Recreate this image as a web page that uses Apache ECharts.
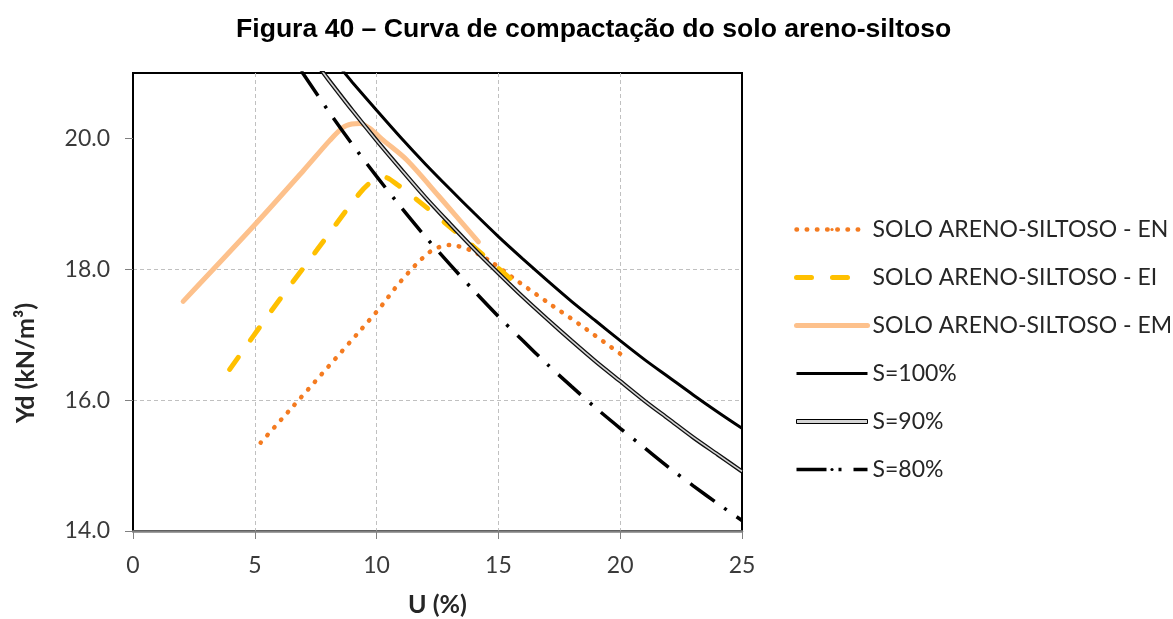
<!DOCTYPE html>
<html>
<head>
<meta charset="utf-8">
<script src="https://cdn.jsdelivr.net/npm/echarts@6/dist/echarts.min.js"></script>
<style>
  html, body { margin: 0; padding: 0; background: #fff; }
  #chart { width: 1173px; height: 619px; }
</style>
</head>
<body>
<div id="chart"></div>
<script>
// Compaction curves: moisture content U (%) and dry unit weight (kN/m³)
const umidadeEN = [5.24, 10.0, 11.0, 12.2, 13.0, 13.8, 14.6, 15.6, 17.0, 18.4, 20.07];
const pesoEN    = [15.35, 17.35, 17.82, 18.27, 18.37, 18.30, 18.14, 17.87, 17.50, 17.14, 16.69];

const umidadeEI = [3.97, 5.75, 7.54, 9.3, 9.8, 10.3, 10.9, 12.1, 13.0, 14.0, 15.48];
const pesoEI    = [16.47, 17.40, 18.29, 19.16, 19.34, 19.41, 19.28, 18.93, 18.65, 18.34, 17.86];

const umidadeEM = [2.06, 5.0, 7.0, 8.08, 8.63, 8.98, 9.32, 9.73, 10.28, 11.24, 12.55, 14.18];
const pesoEM    = [17.51, 18.68, 19.51, 19.97, 20.17, 20.22, 20.23, 20.15, 19.97, 19.67, 19.12, 18.42];

// Saturation curves
const umidadeS100 = [8.6, 9, 10, 11, 12, 13, 14, 15, 16, 17, 18, 19, 20, 21, 22, 23, 24, 25];
const pesoS100    = [21.04, 20.86, 20.43, 20.01, 19.61, 19.23, 18.86, 18.50, 18.16, 17.83, 17.51, 17.21, 16.91, 16.62, 16.35, 16.08, 15.82, 15.57];

const umidadeS90 = [7.7, 8, 9, 10, 11, 12, 13, 14, 15, 16, 17, 18, 19, 20, 21, 22, 23, 24, 25];
const pesoS90    = [21.06, 20.91, 20.43, 19.97, 19.53, 19.10, 18.70, 18.31, 17.94, 17.58, 17.24, 16.91, 16.59, 16.29, 15.99, 15.71, 15.43, 15.17, 14.91];

const umidadeS80 = [6.9, 7, 8, 9, 10, 11, 12, 13, 14, 15, 16, 17, 18, 19, 20, 21, 22, 23, 24, 25];
const pesoS80    = [21.03, 20.98, 20.43, 19.91, 19.42, 18.95, 18.50, 18.08, 17.67, 17.28, 16.91, 16.55, 16.21, 15.88, 15.57, 15.27, 14.97, 14.69, 14.42, 14.16];

const ticksY = [14, 16, 18, 20];

const pares = (xs, ys) => xs.map((x, i) => [x, ys[i]]);

const chart = echarts.init(document.getElementById('chart'), null, { renderer: 'canvas' });

const baseLine = { type: 'line', symbol: 'none', showSymbol: false, smooth: 0.3, clip: true, silent: true };

chart.setOption({
  animation: false,
  backgroundColor: '#ffffff',
  title: {
    text: 'Figura 40 – Curva de compactação do solo areno-siltoso',
    left: 236,
    top: 16,
    padding: 0,
    textStyle: { fontFamily: 'Liberation Sans', fontWeight: 'bold', fontSize: 26.6, color: '#000' }
  },
  grid: {
    left: 133, right: 431, top: 73, bottom: 88,
    outerBoundsMode: 'none',
    containLabel: false,
    show: true, borderColor: '#000', borderWidth: 2, backgroundColor: 'transparent'
  },
  legend: {
    orient: 'vertical',
    left: 789,
    top: 213,
    itemWidth: 71,
    itemHeight: 4,
    itemGap: 25,
    selectedMode: false,
    textStyle: { fontFamily: 'Lato', fontSize: 23, color: '#262626' },
    lineStyle: { width: 'inherit' },
    data: [
      { name: 'SOLO ARENO-SILTOSO - EN' },
      { name: 'SOLO ARENO-SILTOSO - EI' },
      { name: 'SOLO ARENO-SILTOSO - EM' },
      { name: 'S=100%' },
      { name: 'S=90%', icon: 'rect', itemStyle: { color: '#d4d4d4', borderColor: '#000', borderWidth: 1 } },
      { name: 'S=80%' }
    ]
  },
  xAxis: {
    type: 'value',
    min: 0, max: 25, interval: 5,
    name: 'U (%)',
    nameLocation: 'middle',
    nameGap: 61,
    nameTextStyle: { fontFamily: 'Lato', fontWeight: 'bold', fontSize: 25, color: '#262626' },
    axisLine: { show: true, onZero: false, lineStyle: { color: '#808080', width: 2.5 } },
    axisTick: { show: true, inside: false, length: 8, lineStyle: { color: '#808080', width: 1 } },
    axisLabel: { margin: 23, fontFamily: 'Lato', fontSize: 23, color: '#3a3a3a' },
    splitLine: { show: true, showMinLine: false, showMaxLine: false,
                 lineStyle: { color: '#c0c0c0', width: 1, type: [4, 3] } }
  },
  yAxis: {
    type: 'value',
    min: 14, max: 21, interval: 2,
    name: 'Yd (kN/m³)',
    nameLocation: 'middle',
    nameGap: 95,
    nameTextStyle: { fontFamily: 'Lato', fontWeight: 'bold', fontSize: 25, color: '#262626', padding: [0, 122, 0, 0] },
    axisLine: { show: true, onZero: false, lineStyle: { color: '#000', width: 2 } },
    axisTick: { show: true, inside: false, length: 8, customValues: ticksY, lineStyle: { color: '#808080', width: 1 } },
    axisLabel: { margin: 23, showMaxLabel: false, fontFamily: 'Lato', fontSize: 23, color: '#3a3a3a',
                 formatter: v => v.toFixed(1) },
    splitLine: { show: true, showMinLine: false, showMaxLine: false,
                 lineStyle: { color: '#c0c0c0', width: 1, type: [4, 3] } }
  },
  series: [
    Object.assign({}, baseLine, {
      name: 'SOLO ARENO-SILTOSO - EN',
      data: pares(umidadeEN, pesoEN),
      color: '#f47b20',
      lineStyle: { color: '#f47b20', width: 4.5, type: [0.5, 9.7], cap: 'round' }
    }),
    Object.assign({}, baseLine, {
      name: 'SOLO ARENO-SILTOSO - EI',
      data: pares(umidadeEI, pesoEI),
      color: '#ffc000',
      lineStyle: { color: '#ffc000', width: 5, type: [15, 21], cap: 'round' }
    }),
    Object.assign({}, baseLine, {
      name: 'SOLO ARENO-SILTOSO - EM',
      data: pares(umidadeEM, pesoEM),
      color: '#fdc18c',
      lineStyle: { color: '#fdc18c', width: 5, cap: 'round' }
    }),
    Object.assign({}, baseLine, {
      name: 'S=100%',
      data: pares(umidadeS100, pesoS100),
      color: '#000',
      lineStyle: { color: '#000', width: 3 }
    }),
    // double line: dark outer stroke with a light core
    Object.assign({}, baseLine, {
      name: 'S=90%',
      data: pares(umidadeS90, pesoS90),
      color: '#000',
      lineStyle: { color: '#111', width: 4.2 }
    }),
    Object.assign({}, baseLine, {
      name: 'S=90%',
      data: pares(umidadeS90, pesoS90),
      color: '#d4d4d4',
      lineStyle: { color: '#d4d4d4', width: 1.6 }
    }),
    Object.assign({}, baseLine, {
      name: 'S=80%',
      data: pares(umidadeS80, pesoS80),
      color: '#000',
      lineStyle: { color: '#000', width: 3.5, type: [30, 12, 3, 12], cap: 'butt' }
    })
  ]
});
</script>
</body>
</html>
